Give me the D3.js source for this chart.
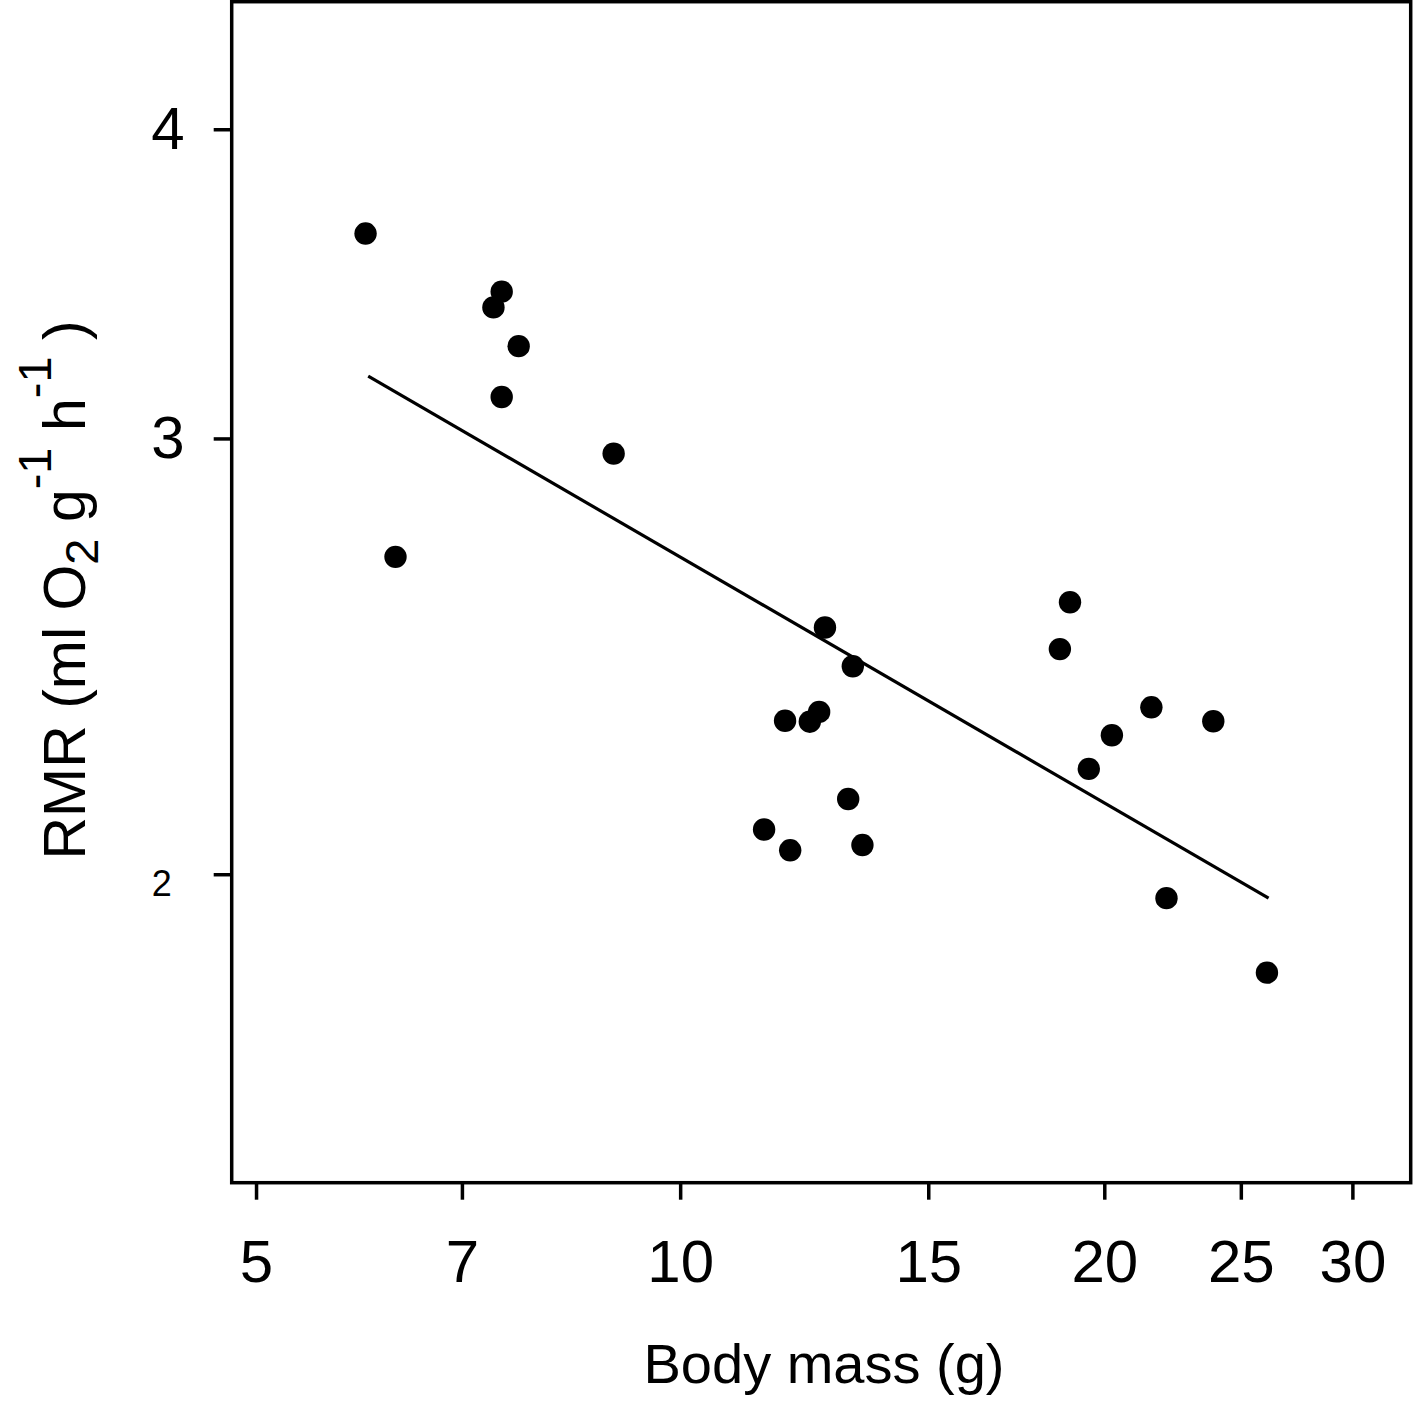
<!DOCTYPE html>
<html>
<head>
<meta charset="utf-8">
<script src="https://cdn.jsdelivr.net/npm/d3@7"></script>
<style>
  body { margin: 0; background: #fff; }
  text { font-family: "Liberation Sans", Arial, sans-serif; fill: #000; }
</style>
</head>
<body>
<svg id="chart" width="1414" height="1403" viewBox="0 0 1414 1403"></svg>
<script>
// body mass (g) and resting metabolic rate
const mass = [5.98, 6.28, 7.47, 7.37, 7.68, 7.47, 8.97,
    12.67, 13.26, 11.87, 12.36, 12.55, 13.16, 11.47, 11.97, 13.47,
    18.91, 18.60, 21.60, 23.90, 20.25, 19.50, 22.14, 26.09]
const rmr = [3.630, 2.687, 3.439, 3.389, 3.269, 3.118, 2.958,
    2.516, 2.427, 2.307, 2.305, 2.326, 2.145, 2.085, 2.045, 2.055,
    2.576, 2.466, 2.336, 2.306, 2.276, 2.206, 1.956, 1.825]

// fitted line end points
const fitMass = [6.006, 26.16]
const fitRmr = [3.179, 1.956]

const xTicks = [5, 7, 10, 15, 20, 25, 30]
const yTicks = [2, 3, 4]

const svg = d3.select("#chart")
const plotLeft = 231.7, plotRight = 1410.7, plotTop = 1.7, plotBottom = 1182.7

const x = d3.scaleLog()
    .domain([4.805, 33.0])
    .range([plotLeft, plotRight])
const y = d3.scaleLog()
    .domain([1.501, 4.504])
    .range([plotBottom, plotTop])

// x axis
const xAxis = svg.append("g")
    .attr("transform", `translate(0,${plotBottom})`)
    .call(d3.axisBottom(x)
        .tickValues(xTicks)
        .tickFormat(d3.format("d"))
        .tickSize(17)
        .tickSizeOuter(0)
        .tickPadding(40))
xAxis.select(".domain").remove()
xAxis.selectAll(".tick line").attr("stroke", "#000").attr("stroke-width", 3.5)
xAxis.selectAll(".tick text")
    .attr("font-size", 60)
    .attr("font-family", "Liberation Sans, Arial, sans-serif")

// y axis
const yAxis = svg.append("g")
    .attr("transform", `translate(${plotLeft},0)`)
    .call(d3.axisLeft(y)
        .tickValues(yTicks)
        .tickFormat(d3.format("d"))
        .tickSize(18)
        .tickSizeOuter(0)
        .tickPadding(29))
yAxis.select(".domain").remove()
yAxis.selectAll(".tick line").attr("stroke", "#000").attr("stroke-width", 3.5)
yAxis.selectAll(".tick text")
    .attr("font-size", 60)
    .attr("font-family", "Liberation Sans, Arial, sans-serif")
// the "2" label is printed smaller and a bit lower
yAxis.selectAll(".tick text")
    .filter(d => d === 2)
    .attr("font-size", 36)
    .attr("x", -70)
    .attr("dy", "0.58em")
    .attr("text-anchor", "middle")

// fitted line
const fit = fitMass.map((m, i) => [m, fitRmr[i]])
svg.append("path")
    .datum(fit)
    .attr("fill", "none")
    .attr("stroke", "#000")
    .attr("stroke-width", 3.2)
    .attr("d", d3.line().x(d => x(d[0])).y(d => y(d[1])))

// points
svg.append("g")
    .selectAll("circle")
    .data(mass)
    .enter()
    .append("circle")
    .attr("cx", d => x(d))
    .attr("cy", (d, i) => y(rmr[i]))
    .attr("r", 11.2)
    .attr("fill", "#000")

// frame
svg.append("rect")
    .attr("x", plotLeft)
    .attr("y", plotTop)
    .attr("width", plotRight - plotLeft)
    .attr("height", plotBottom - plotTop)
    .attr("fill", "none")
    .attr("stroke", "#000")
    .attr("stroke-width", 3.5)

// axis titles
svg.append("text")
    .attr("x", 824)
    .attr("y", 1383)
    .attr("text-anchor", "middle")
    .attr("font-size", 56)
    .text("Body mass (g)")

const yTitle = svg.append("text")
    .attr("transform", "translate(85,590) rotate(-90)")
    .attr("text-anchor", "middle")
    .attr("font-size", 59)
yTitle.append("tspan").text("RMR (ml O")
yTitle.append("tspan").attr("font-size", 47).attr("dy", 13).text("2")
yTitle.append("tspan").attr("dy", -13).text(" g")
yTitle.append("tspan").attr("font-size", 47).attr("dy", -34).text("-1")
yTitle.append("tspan").attr("dy", 34).text(" h")
yTitle.append("tspan").attr("font-size", 47).attr("dy", -34).text("-1")
yTitle.append("tspan").attr("dy", 34).text(" )")
</script>
</body>
</html>
